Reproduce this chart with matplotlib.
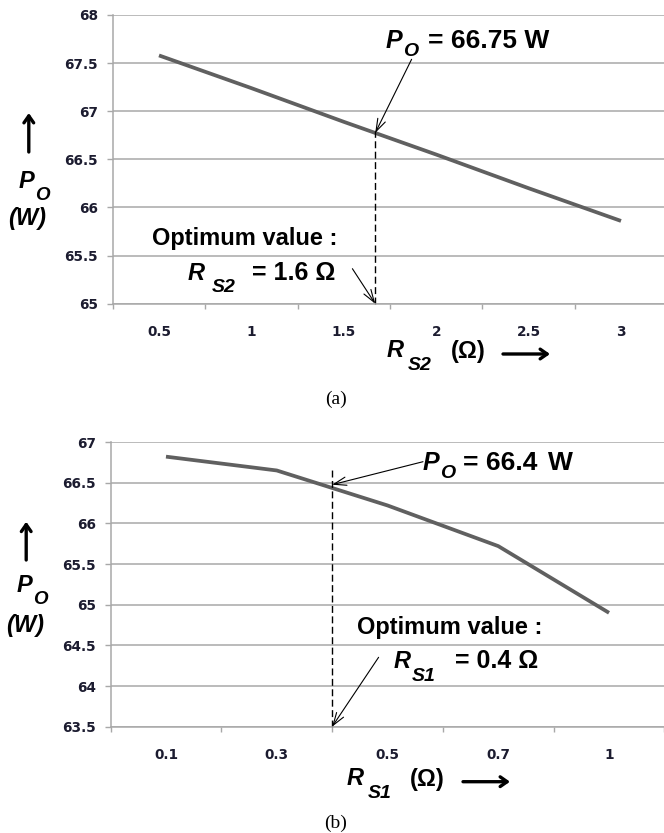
import numpy as np
import matplotlib.pyplot as plt

plt.rcParams['font.family'] = ['Liberation Sans', 'DejaVu Sans']

# (a) output power vs R_S2
rs2 = [0.5, 1, 1.5, 2, 2.5, 3]
po_a = [67.58, 67.24, 66.89, 66.55, 66.20, 65.86]
rs2_opt = 1.67          # where the dashed marker is drawn
po_a_top = 66.79        # top of dashed marker
yticks_a = [65, 65.5, 66, 66.5, 67, 67.5, 68]

# (b) output power vs R_S1 (category axis)
rs1 = ['0.1', '0.3', '0.5', '0.7', '1']
po_b = [66.82, 66.65, 66.22, 65.72, 64.90]
rs1_opt_pos = 1.5       # boundary between 0.3 and 0.5 -> 0.4
po_b_top = 66.66
yticks_b = [63.5, 64, 64.5, 65, 65.5, 66, 66.5, 67]

GRID = '#a8a8a8'
LINE = '#606060'
TXT = '#1c1c30'

W, H = 664, 833
fig = plt.figure(figsize=(W / 100, H / 100), dpi=100)
renderer = fig.canvas.get_renderer()


def fpix(x, y):
    return (x, H - y)


def put(x, y, s, size, italic=False, ha='left', family=None, weight='bold'):
    kw = dict(fontsize=size, fontweight=weight, ha=ha, va='baseline',
              fontstyle='italic' if italic else 'normal')
    if family:
        kw['family'] = family
    return fig.text(x / W, 1 - y / H, s, **kw)


def sub_after(base, x, y, s, size):
    # subscript placed just clear of the base letter
    right = base.get_window_extent(renderer).x1
    return put(max(x, right + 0.5), y, s, size, italic=True)


def big_arrow(x0, y0, x1, y1):
    fig.add_artist(plt.matplotlib.patches.FancyArrowPatch(
        fpix(x0, y0), fpix(x1, y1), transform=None,
        arrowstyle='->,head_length=5,head_width=3.5', lw=2.4, color='k',
        shrinkA=0, shrinkB=0))


def style(ax, yticks, centers, labels):
    ax.set_ylim(yticks[0], yticks[-1])
    ax.set_yticks(yticks)
    ax.set_yticklabels([f'{v:g}' for v in yticks], fontweight='bold',
                       family='DejaVu Sans', fontsize=9.8, color=TXT)
    ax.set_xticks(centers, minor=True)
    ax.set_xticklabels(labels, minor=True, fontweight='bold',
                       family='DejaVu Sans', fontsize=9.8, color=TXT)
    ax.grid(axis='y', color=GRID, lw=1.1)
    ax.set_axisbelow(True)
    for s in ['top', 'right']:
        ax.spines[s].set_visible(False)
    for s in ['left', 'bottom']:
        ax.spines[s].set_color(GRID)
        ax.spines[s].set_linewidth(1.1)
    ax.tick_params(axis='y', length=4.1, width=1, color=GRID, pad=6.5)
    ax.tick_params(axis='x', which='major', length=3.6, width=1, color=GRID,
                   labelbottom=False)
    ax.tick_params(axis='x', which='minor', length=0, pad=15.5)


# ---- (a)
ax1 = fig.add_axes([112.8 / W, 1 - 303.7 / H, (667.2 - 112.8) / W, (303.7 - 15) / H])
ax1.plot(rs2, po_a, color=LINE, lw=2.7, solid_capstyle='butt')
ax1.set_xlim(rs2[0] - 0.25, rs2[-1] + 0.25)
ax1.set_xticks(np.arange(rs2[0] - 0.25, rs2[-1] + 0.5, 0.5))
style(ax1, yticks_a, rs2, [f'{v:g}' for v in rs2])
ax1.vlines(rs2_opt, yticks_a[0], po_a_top, colors='k', lw=1,
           linestyles=(0, (5, 2.5)), clip_on=False)

po_a_opt = np.interp(rs2_opt, rs2, po_a)
arr = dict(arrowstyle='->,head_length=0.9,head_width=0.3', lw=0.8, color='k',
           shrinkA=0, shrinkB=0)
ax1.annotate('', xy=(rs2_opt, po_a_opt), xytext=fpix(411.6, 59.3),
             textcoords='figure pixels', arrowprops=arr, annotation_clip=False)
ax1.annotate('', xy=(rs2_opt, yticks_a[0]), xytext=fpix(352.4, 268.7),
             textcoords='figure pixels', arrowprops=arr, annotation_clip=False)

p = put(386, 48, 'P', 18, italic=True)
sub_after(p, 393, 55.5, 'O', 14)
put(428, 48, '= 66.75 W', 19)
put(152, 245, 'Optimum value :', 17)
put(188, 279.5, 'R', 17, italic=True)
put(211.5, 292.5, 'S2', 14, italic=True)
put(252, 280, '= 1.6 \u03a9', 18)

big_arrow(28.8, 152, 28.8, 113)
p = put(19, 188, 'P', 17, italic=True)
sub_after(p, 25, 200, 'O', 13.5)
put(8.5, 225.5, '(W)', 17, italic=True)

put(387, 357.5, 'R', 17, italic=True)
put(408, 370, 'S2', 14, italic=True)
put(450.5, 358.5, '(\u03a9)', 17)
big_arrow(503, 354, 550, 354)

put(336, 404, '(a)', 14, ha='center', family='Liberation Serif', weight='normal')

# ---- (b)
pos_b = np.arange(len(rs1))
ax2 = fig.add_axes([110.6 / W, 1 - 726.7 / H, (664.4 - 110.6) / W, (726.7 - 442) / H])
ax2.plot(pos_b, po_b, color=LINE, lw=2.7, solid_capstyle='butt')
ax2.set_xlim(-0.5, len(rs1) - 0.5)
ax2.set_xticks(np.arange(-0.5, len(rs1), 1.0))
style(ax2, yticks_b, pos_b, rs1)
ax2.vlines(rs1_opt_pos, yticks_b[0], po_b_top, colors='k', lw=1,
           linestyles=(0, (5, 2.5)), clip_on=False)

po_b_opt = np.interp(rs1_opt_pos, pos_b, po_b)
ax2.annotate('', xy=(rs1_opt_pos, po_b_opt + 0.04), xytext=fpix(423, 461.7),
             textcoords='figure pixels', arrowprops=arr, annotation_clip=False)
ax2.annotate('', xy=(rs1_opt_pos, yticks_b[0]), xytext=fpix(378.6, 657.3),
             textcoords='figure pixels', arrowprops=arr, annotation_clip=False)

p = put(423, 470, 'P', 18, italic=True)
sub_after(p, 433.6, 478, 'O', 14)
put(463, 470, '= 66.4', 19)
put(548, 470, 'W', 19)
put(356.6, 634, 'Optimum value :', 17)
put(393.4, 668.3, 'R', 17, italic=True)
put(412, 681, 'S1', 14, italic=True)
put(454.7, 668.3, '= 0.4 \u03a9', 18)

big_arrow(26.2, 560, 26.2, 521.7)
p = put(17, 591.7, 'P', 17, italic=True)
sub_after(p, 24.5, 604.5, 'O', 13.5)
put(6.3, 632, '(W)', 17, italic=True)

put(347, 785, 'R', 17, italic=True)
put(368, 798, 'S1', 14, italic=True)
put(409.5, 786, '(\u03a9)', 17)
big_arrow(463, 781.7, 510, 781.7)

put(336, 828, '(b)', 14, ha='center', family='Liberation Serif', weight='normal')

fig.savefig('out.png', dpi=100)
